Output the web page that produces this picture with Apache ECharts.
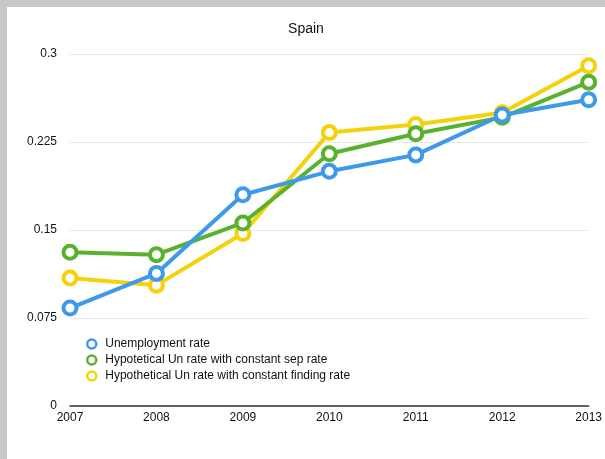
<!DOCTYPE html>
<html>
<head>
<meta charset="utf-8">
<script src="https://cdn.jsdelivr.net/npm/echarts@6/dist/echarts.min.js"></script>
<style>
  html, body { margin: 0; padding: 0; background: #c8c8c8; width: 605px; height: 459px; overflow: hidden; }
  #chart { position: absolute; left: 7px; top: 7px; width: 598px; height: 452px; background: #ffffff; }
</style>
</head>
<body>
<div id="chart"></div>
<script>
// Spain: actual vs. hypothetical unemployment rates
const years = ['2007', '2008', '2009', '2010', '2011', '2012', '2013'];
const unemploymentRate = [0.0835, 0.113, 0.180, 0.200, 0.214, 0.248, 0.261];
const constantSepRate = [0.131, 0.129, 0.156, 0.215, 0.232, 0.246, 0.276];
const constantFindingRate = [0.109, 0.103, 0.147, 0.233, 0.240, 0.250, 0.290];
const seriesNames = [
  'Unemployment rate',
  'Hypotetical Un rate with constant sep rate',
  'Hypothetical Un rate with constant finding rate'
];
const colors = ['#3e9ae8', '#59b22e', '#f5d10c'];

const chart = echarts.init(document.getElementById('chart'), null, { renderer: 'canvas' });

function lineSeries(name, data, color, z) {
  return {
    name: name,
    type: 'line',
    data: data,
    z: z,
    color: color,
    symbol: 'circle',
    symbolSize: 13,
    lineStyle: { color: color, width: 4 },
    itemStyle: { color: '#ffffff', borderColor: color, borderWidth: 4 },
    emphasis: { disabled: true },
    animation: false
  };
}

chart.setOption({
  backgroundColor: '#ffffff',
  title: {
    text: 'Spain',
    left: 'center',
    top: 10,
    textStyle: { fontFamily: 'Liberation Sans', fontSize: 14, fontWeight: 'normal', color: '#111' }
  },
  legend: {
    orient: 'vertical',
    left: 74,
    top: 326,
    itemGap: 4,
    itemWidth: 9,
    itemHeight: 9,
    data: seriesNames.map((n, i) => ({
      name: n,
      icon: 'circle',
      itemStyle: { color: '#ffffff', borderColor: colors[i], borderWidth: 2.5 }
    })),
    textStyle: { fontFamily: 'Liberation Sans', fontSize: 12, color: '#111', padding: [0, 0, 0, 4] }
  },
  grid: { left: 63, right: 16, top: 47, bottom: 53, containLabel: false },
  xAxis: {
    type: 'category',
    data: years,
    boundaryGap: false,
    axisLine: { lineStyle: { color: '#333', width: 1.5 } },
    axisTick: { show: false },
    axisLabel: { fontFamily: 'Liberation Sans', fontSize: 12, color: '#111', margin: 6 },
    splitLine: { show: false }
  },
  yAxis: {
    type: 'value',
    min: 0,
    max: 0.3,
    interval: 0.075,
    axisLine: { show: false },
    axisTick: { show: false },
    axisLabel: { fontFamily: 'Liberation Sans', fontSize: 12, color: '#111', margin: 13 },
    splitLine: { lineStyle: { color: '#e8e8e8', width: 1 } }
  },
  series: [
    lineSeries(seriesNames[2], constantFindingRate, colors[2], 2),
    lineSeries(seriesNames[1], constantSepRate, colors[1], 3),
    lineSeries(seriesNames[0], unemploymentRate, colors[0], 4)
  ]
});
</script>
</body>
</html>
